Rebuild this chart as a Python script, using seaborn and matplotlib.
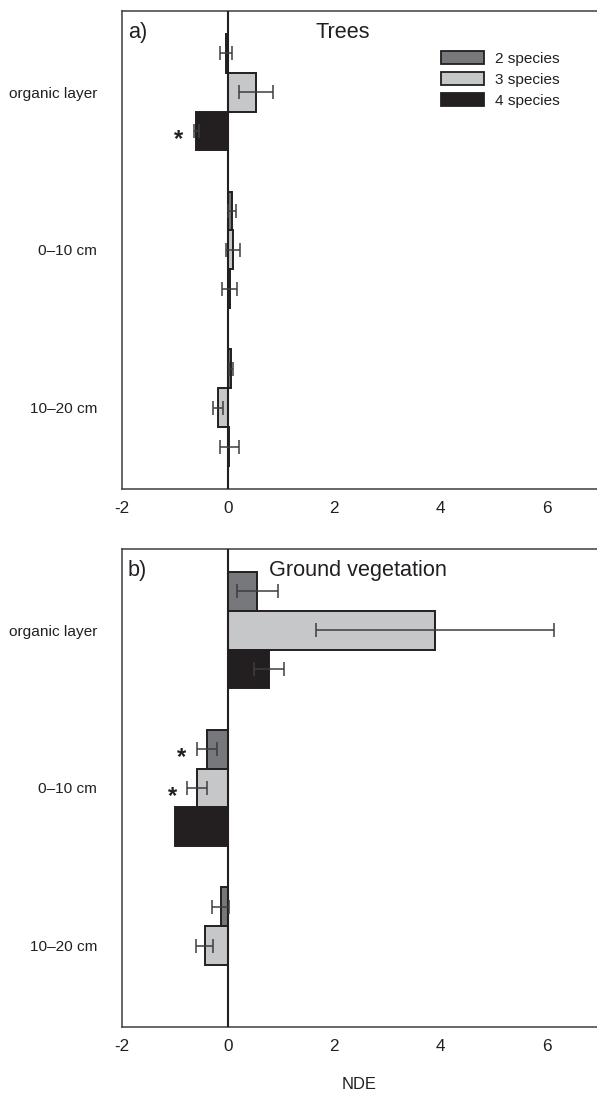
import matplotlib
matplotlib.use("Agg")
import matplotlib.pyplot as plt
from matplotlib import font_manager
from matplotlib.patches import Patch
from matplotlib.container import BarContainer
import seaborn as sns
import pandas as pd

# ---- data ----
depths = ["organic layer", "0–10 cm", "10–20 cm"]
species = ["2 species", "3 species", "4 species"]
colors = ["#77787b", "#c6c7c9", "#231f20"]

# rows = depth, columns = species
trees_nde = [[-0.04, 0.53, -0.60],
             [0.07, 0.09, 0.03],
             [0.06, -0.19, 0.02]]
trees_err = [[0.12, 0.32, 0.05],
             [0.07, 0.14, 0.14],
             [0.04, 0.10, 0.18]]
trees_sig = [[False, False, True],
             [False, False, False],
             [False, False, False]]

ground_nde = [[0.55, 3.90, 0.77],
              [-0.40, -0.58, -1.01],
              [-0.14, -0.44, 0.0]]
ground_err = [[0.39, 2.24, 0.29],
              [0.19, 0.19, 0.0],
              [0.16, 0.16, 0.0]]
ground_sig = [[False, False, False],
              [True, True, False],
              [False, False, False]]

# font: condensed Arial-like if available
names = {f.name for f in font_manager.fontManager.ttflist}
if "Liberation Sans Narrow" in names:
    font, fs = "Liberation Sans Narrow", 1.0
else:
    font, fs = "Liberation Sans", 0.82

sns.set_theme(style="white")
plt.rcParams["font.family"] = [font, "DejaVu Sans"]
ink = "#231f20"


def to_long(nde, err):
    rows = []
    for i, d in enumerate(depths):
        for j, s in enumerate(species):
            rows.append({"depth": d, "species": s, "nde": nde[i][j], "err": err[i][j]})
    return pd.DataFrame(rows)


def panel(ax, nde, err, sig, letter, title, title_x):
    df = to_long(nde, err)
    sns.barplot(data=df, x="nde", y="depth", hue="species", order=depths,
                hue_order=species, orient="h", palette=colors, saturation=1,
                width=0.74, edgecolor=ink, linewidth=1.4, errorbar=None,
                legend=False, ax=ax)
    bar_sets = [c for c in ax.containers if isinstance(c, BarContainer)]
    # error bars and significance stars
    for j, cont in enumerate(bar_sets):
        for i, bar in enumerate(cont):
            y = bar.get_y() + bar.get_height() / 2
            v, e = nde[i][j], err[i][j]
            if e > 0:
                ax.errorbar(v, y, xerr=e, fmt="none", ecolor="#3d3d3f",
                            elinewidth=1.1, capsize=4.7, capthick=1.1, zorder=4)
            if sig[i][j]:
                ax.text(min(v, 0) - e - 0.28, y + 0.055, "*", ha="center",
                        va="center", fontsize=21 * fs, fontweight="bold", color=ink)
    ax.axvline(0, color=ink, lw=1.5, zorder=3)
    ax.set_xlim(-2, 6.95)
    ax.set_ylim(2.513, -0.513)
    ax.set_xticks([-2, 0, 2, 4, 6])
    ax.set_xticklabels(["-2", "0", "2", "4", "6"])
    ax.tick_params(axis="x", direction="in", length=5, width=1, color="#3d3d3f",
                   labelsize=15 * fs, labelcolor=ink, pad=8.5)
    ax.tick_params(axis="y", length=0, labelsize=13.5 * fs, labelcolor=ink, pad=18)
    for side in ["left", "bottom", "top"]:
        ax.spines[side].set_color("#3d3d3f")
        ax.spines[side].set_linewidth(1.1)
    ax.spines["right"].set_visible(False)
    ax.set_ylabel("")
    ax.set_xlabel("")
    ax.text(0.012, 0.955, letter, transform=ax.transAxes, ha="left", va="center",
            fontsize=19 * fs, color=ink)
    ax.text(title_x, 0.955, title, transform=ax.transAxes, ha="center",
            va="center", fontsize=19 * fs, color=ink)


fig = plt.figure(figsize=(5.97, 11.0), dpi=100)
ax1 = fig.add_axes([0.2044, 0.5555, 0.7956, 0.4345])
ax2 = fig.add_axes([0.2044, 0.0664, 0.7956, 0.4345])

panel(ax1, trees_nde, trees_err, trees_sig, "a)", "Trees", 0.465)
panel(ax2, ground_nde, ground_err, ground_sig, "b)", "Ground vegetation", 0.496)

handles = [Patch(facecolor=c, edgecolor=ink, linewidth=1.3) for c in colors]
ax1.legend(handles, species, loc="upper left", bbox_to_anchor=(441 / 597, 1 - 51 / 1100),
           bbox_transform=fig.transFigure, frameon=False, fontsize=13.5 * fs,
           handlelength=2.8, handleheight=0.9, handletextpad=0.7,
           labelspacing=0.42, borderpad=0, borderaxespad=0, labelcolor=ink)

ax2.set_xlabel("NDE", fontsize=14.5 * fs, color=ink, labelpad=17)

fig.savefig("out.png", dpi=100)
